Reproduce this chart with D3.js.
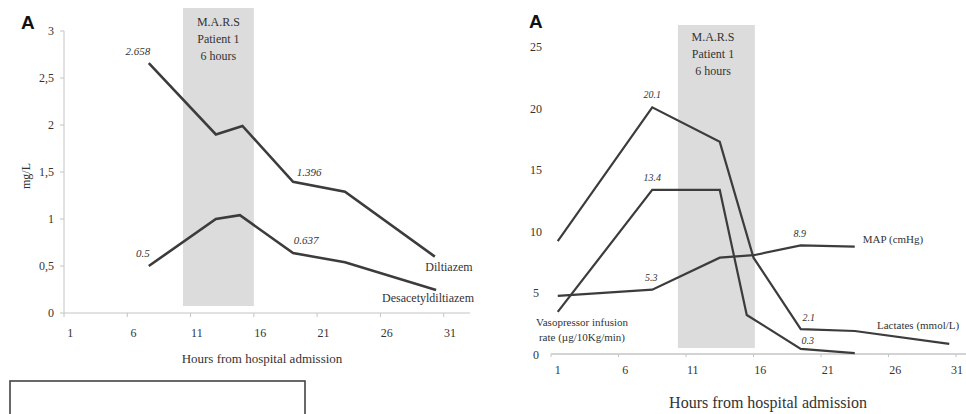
<!DOCTYPE html>
<html>
<head>
<meta charset="utf-8">
<script src="https://cdn.jsdelivr.net/npm/d3@7"></script>
<style>
  body { margin: 0; background: #fff; }
</style>
</head>
<body>
<svg id="chart" width="966" height="414"></svg>
<script>
// left panel: drug concentrations (mg/L)
const hoursDil = [7.2, 12.5, 14.6, 18.6, 22.7, 29.8]
const diltiazem = [2.658, 1.9, 1.99, 1.396, 1.29, 0.6]
const hoursDes = [7.2, 12.5, 14.4, 18.6, 22.7, 29.9]
const desacetyl = [0.5, 1.0, 1.04, 0.637, 0.54, 0.245]
const leftYTicks = [0, 0.5, 1, 1.5, 2, 2.5, 3]
const xTickLabels = [1, 6, 11, 16, 21, 26, 31]

// right panel: haemodynamics
const hoursLac = [1, 8, 13, 15.5, 19, 23, 30]
const lactates = [9.25, 20.1, 17.3, 7.9, 2.1, 1.95, 0.9]
const hoursVaso = [1, 8, 13, 15, 19, 23]
const vasopressor = [3.5, 13.4, 13.4, 3.25, 0.5, 0.15]
const hoursMap = [1, 8, 13, 15.5, 19, 23]
const mapValues = [4.8, 5.3, 7.9, 8.1, 8.9, 8.8]
const rightYTicks = [0, 5, 10, 15, 20, 25]

const SERIF = '"Liberation Serif", "Times New Roman", Times, "DejaVu Serif", "Noto Serif", serif'
const svg = d3.select('#chart')
const lineColor = '#3c3c3c'
const axisColor = '#c4c4c4'
const shade = '#dcdcdc'

// small helper so every label gets the same serif look
function label(g, x, y, t, size, anchor, italic) {
  return g.append('text').attr('x', x).attr('y', y)
    .attr('text-anchor', anchor || 'middle')
    .attr('font-family', SERIF)
    .attr('font-size', size)
    .attr('font-style', italic ? 'italic' : 'normal')
    .attr('fill', '#333')
    .text(t)
}

// ---------- left ----------
const xL = d3.scaleLinear().domain([0.5, 32.5]).range([64, 469])
const yL = d3.scaleLinear().domain([0, 3]).range([313, 31])
const gL = svg.append('g')

gL.append('rect')
  .attr('x', xL(9.9)).attr('y', 8)
  .attr('width', xL(15.5) - xL(9.9)).attr('height', 306 - 8)
  .attr('fill', shade)

;['M.A.R.S', 'Patient 1', '6 hours'].forEach((t, i) => {
  label(gL, xL(12.7), 26 + i * 17, t, 12)
})

// y axis
gL.append('line').attr('x1', 64).attr('x2', 64).attr('y1', yL(3)).attr('y2', yL(0))
  .attr('stroke', axisColor)
leftYTicks.forEach(v => {
  gL.append('line').attr('x1', 60).attr('x2', 64).attr('y1', yL(v)).attr('y2', yL(v))
    .attr('stroke', axisColor)
  label(gL, 54, yL(v) + 4, String(v).replace('.', ','), 12, 'end')
})
// x axis
gL.append('line').attr('x1', 64).attr('x2', 470).attr('y1', 313).attr('y2', 313)
  .attr('stroke', axisColor)
xTickLabels.forEach(v => {
  gL.append('line').attr('x1', xL(v - 0.5)).attr('x2', xL(v - 0.5)).attr('y1', 313).attr('y2', 317)
    .attr('stroke', axisColor)
  label(gL, xL(v), 337, v, 12)
})
label(gL, 262, 363, 'Hours from hospital admission', 13)
label(gL, 0, 0, 'mg/L', 12).attr('transform', 'translate(30,176) rotate(-90)')
gL.append('text').attr('x', 21).attr('y', 29)
  .attr('font-family', '"Liberation Sans", Arial, sans-serif').attr('font-weight', 'bold')
  .attr('font-size', 19).attr('fill', '#111').text('A')

const lineL = d3.line().x(d => xL(d[0])).y(d => yL(d[1]))
gL.append('path').attr('d', lineL(d3.zip(hoursDil, diltiazem)))
  .attr('fill', 'none').attr('stroke', lineColor).attr('stroke-width', 2.6)
gL.append('path').attr('d', lineL(d3.zip(hoursDes, desacetyl)))
  .attr('fill', 'none').attr('stroke', lineColor).attr('stroke-width', 2.6)

label(gL, xL(hoursDil[0]) - 11, yL(diltiazem[0]) - 8, '2.658', 11, 'middle', true)
label(gL, xL(hoursDil[3]) + 16, yL(diltiazem[3]) - 6, '1.396', 11, 'middle', true)
label(gL, xL(hoursDes[0]) - 6, yL(desacetyl[0]) - 9, '0.5', 11, 'middle', true)
label(gL, xL(hoursDes[3]) + 13, yL(desacetyl[3]) - 9, '0.637', 11, 'middle', true)

label(gL, 449, 271, 'Diltiazem', 12)
label(gL, 428, 302, 'Desacetyldiltiazem', 12)

// empty box below
gL.append('rect').attr('x', 10).attr('y', 381).attr('width', 295).attr('height', 60)
  .attr('fill', 'none').attr('stroke', '#444').attr('stroke-width', 1.6)

// ---------- right ----------
const xR = d3.scaleLinear().domain([0.5, 32.5]).range([551, 983])
const yR = d3.scaleLinear().domain([0, 25]).range([355, 47])
const gR = svg.append('g')

gR.append('rect')
  .attr('x', xR(9.9)).attr('y', 25)
  .attr('width', xR(15.6) - xR(9.9)).attr('height', 348 - 25)
  .attr('fill', shade)
;['M.A.R.S', 'Patient 1', '6 hours'].forEach((t, i) => {
  label(gR, 713, 41 + i * 17, t, 12)
})

rightYTicks.forEach(v => {
  label(gR, 536, yR(v) + 4, v, 12)
})
gR.append('line').attr('x1', 551).attr('x2', 966).attr('y1', 354).attr('y2', 354)
  .attr('stroke', axisColor).attr('stroke-width', 1.5)
xTickLabels.forEach(v => {
  gR.append('line').attr('x1', xR(v - 0.5)).attr('x2', xR(v - 0.5)).attr('y1', 354).attr('y2', 357)
    .attr('stroke', axisColor)
  // last label sits on the page edge in the original; keep it just inside
  label(gR, Math.min(xR(v), 957), 374, v, 12)
})
label(gR, 768, 408, 'Hours from hospital admission', 16)
gR.append('text').attr('x', 529).attr('y', 28)
  .attr('font-family', '"Liberation Sans", Arial, sans-serif').attr('font-weight', 'bold')
  .attr('font-size', 19).attr('fill', '#111').text('A')

const lineR = d3.line().x(d => xR(d[0])).y(d => yR(d[1]))
;[[hoursLac, lactates], [hoursVaso, vasopressor], [hoursMap, mapValues]].forEach(([h, v]) => {
  gR.append('path').attr('d', lineR(d3.zip(h, v)))
    .attr('fill', 'none').attr('stroke', lineColor).attr('stroke-width', 2.2)
})

label(gR, xR(hoursLac[1]), yR(lactates[1]) - 9, '20.1', 10, 'middle', true)
label(gR, xR(hoursVaso[1]), yR(vasopressor[1]) - 9, '13.4', 10, 'middle', true)
label(gR, xR(hoursMap[1]) - 1, yR(mapValues[1]) - 9, '5.3', 10, 'middle', true)
label(gR, xR(hoursMap[4]) - 1, yR(mapValues[4]) - 8, '8.9', 10, 'middle', true)
label(gR, xR(hoursLac[4]) + 8, yR(lactates[4]) - 8, '2.1', 10, 'middle', true)
label(gR, xR(hoursVaso[4]) + 7, yR(vasopressor[4]) - 5, '0.3', 10, 'middle', true)

label(gR, 893, 243, 'MAP (cmHg)', 11)
label(gR, 877, 329, 'Lactates (mmol/L)', 11, 'start')
label(gR, 582, 326, 'Vasopressor infusion', 11)
label(gR, 582, 341, 'rate (µg/10Kg/min)', 11)
</script>
</body>
</html>
